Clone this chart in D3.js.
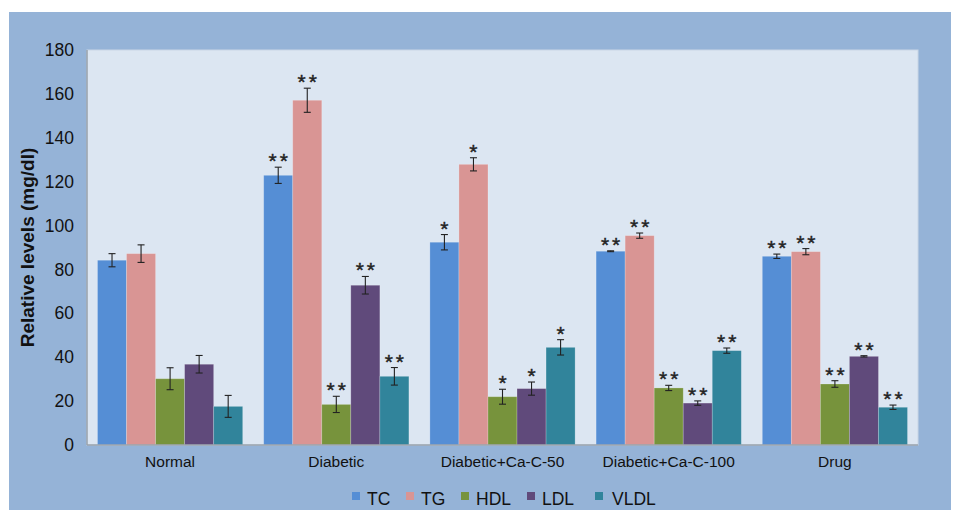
<!DOCTYPE html>
<html>
<head>
<meta charset="utf-8">
<script src="https://cdn.jsdelivr.net/npm/d3@7"></script>
<style>
  body { margin: 0; background: #fff; }
  svg text { font-family: "Liberation Sans", Arial, Helvetica, sans-serif; }
</style>
</head>
<body>
<div id="chart"></div>
<script>
const groups = ["Normal", "Diabetic", "Diabetic+Ca-C-50", "Diabetic+Ca-C-100", "Drug"];
const seriesNames = ["TC", "TG", "HDL", "LDL", "VLDL"];
const colors = ["#558ed5", "#d99594", "#77933c", "#604a7b", "#31849b"];

// values per series, one entry per group
const TC   = [84.2, 122.9, 92.4, 88.3, 86.0];
const TG   = [87.2, 157.1, 127.9, 95.4, 88.1];
const HDL  = [30.2, 18.5, 22.0, 26.0, 27.8];
const LDL  = [36.8, 72.8, 25.7, 19.1, 40.4];
const VLDL = [17.6, 31.3, 44.5, 43.0, 17.2];

// error (+/-)
const errTC   = [3.0, 3.7, 3.5, 0.2, 1.0];
const errTG   = [4.0, 5.5, 3.0, 1.2, 1.4];
const errHDL  = [5.0, 3.7, 3.4, 1.2, 1.5];
const errLDL  = [4.0, 4.0, 3.0, 1.0, 0.3];
const errVLDL = [5.0, 4.0, 3.5, 1.2, 1.0];

// significance marks per group
const marks = ["", "**", "*", "**", "**"];

const yTicks = [0, 20, 40, 60, 80, 100, 120, 140, 160, 180];

const values = [TC, TG, HDL, LDL, VLDL];
const errors = [errTC, errTG, errHDL, errLDL, errVLDL];

const width = 956, height = 516;
const margin = { top: 50, right: 38, bottom: 71, left: 87 };

const svg = d3.select("#chart").append("svg")
    .attr("width", width)
    .attr("height", height);

// outer panel
svg.append("rect")
    .attr("x", 9).attr("y", 12)
    .attr("width", 942).attr("height", 498)
    .attr("fill", "#95b3d7");

// plot area
svg.append("rect")
    .attr("x", margin.left).attr("y", margin.top)
    .attr("width", width - margin.left - margin.right)
    .attr("height", height - margin.top - margin.bottom)
    .attr("fill", "#dce6f2")
    .attr("stroke", "#c9d6e6")
    .attr("stroke-width", 1);

const x0 = d3.scaleBand()
    .domain(groups)
    .range([margin.left, width - margin.right])
    .padding(0);

const x1 = d3.scaleBand()
    .domain(seriesNames)
    .range([10.5, x0.bandwidth() - 10.5])
    .padding(0);

const y = d3.scaleLinear()
    .domain([0, 180])
    .range([height - margin.bottom, margin.top]);

const data = [];
groups.forEach((g, gi) => {
    seriesNames.forEach((s, si) => {
        data.push({ group: g, series: s, si: si, value: values[si][gi], err: errors[si][gi], mark: marks[gi] });
    });
});

// bars
svg.append("g")
    .selectAll("rect")
    .data(data)
    .join("rect")
    .attr("x", d => x0(d.group) + x1(d.series))
    .attr("y", d => y(d.value))
    .attr("width", x1.bandwidth())
    .attr("height", d => y(0) - y(d.value))
    .attr("fill", d => colors[d.si])
    .attr("stroke", "rgba(255,255,255,0.25)")
    .attr("stroke-width", 0.8);

// error bars
const eb = svg.append("g")
    .attr("stroke", "#222")
    .attr("stroke-width", 1.1)
    .selectAll("g")
    .data(data)
    .join("g")
    .attr("transform", d => `translate(${x0(d.group) + x1(d.series) + x1.bandwidth() / 2},0)`);

eb.append("line")
    .attr("y1", d => y(d.value + d.err))
    .attr("y2", d => y(d.value - d.err));
eb.append("line")
    .attr("x1", -3.5).attr("x2", 3.5)
    .attr("y1", d => y(d.value + d.err))
    .attr("y2", d => y(d.value + d.err));
eb.append("line")
    .attr("x1", -3.5).attr("x2", 3.5)
    .attr("y1", d => y(d.value - d.err))
    .attr("y2", d => y(d.value - d.err));

// significance asterisks
svg.append("g")
    .selectAll("text")
    .data(data.filter(d => d.mark))
    .join("text")
    .attr("x", d => x0(d.group) + x1(d.series) + x1.bandwidth() / 2 + 1.5)
    .attr("y", d => y(d.value + d.err) + 1)
    .attr("text-anchor", "middle")
    .attr("font-size", "21px")
    .attr("letter-spacing", "3px")
    .attr("stroke", "#222")
    .attr("stroke-width", 0.4)
    .attr("fill", "#222")
    .text(d => d.mark);

// axes lines
svg.append("line")
    .attr("x1", margin.left).attr("x2", margin.left)
    .attr("y1", margin.top).attr("y2", y(0))
    .attr("stroke", "#9aa3ad").attr("stroke-width", 1.5);
svg.append("line")
    .attr("x1", margin.left).attr("x2", width - margin.right)
    .attr("y1", y(0)).attr("y2", y(0))
    .attr("stroke", "#9aa3ad").attr("stroke-width", 1.5);

// y tick labels
svg.append("g")
    .selectAll("text")
    .data(yTicks)
    .join("text")
    .attr("x", 74)
    .attr("y", d => y(d))
    .attr("dy", "0.35em")
    .attr("text-anchor", "end")
    .attr("font-size", "17.5px")
    .attr("fill", "#111")
    .text(d => d);

// category labels
svg.append("g")
    .selectAll("text")
    .data(groups)
    .join("text")
    .attr("x", d => x0(d) + x0.bandwidth() / 2)
    .attr("y", 467)
    .attr("text-anchor", "middle")
    .attr("font-size", "15.5px")
    .attr("fill", "#111")
    .text(d => d);

// y axis title
svg.append("text")
    .attr("transform", `translate(34,${(margin.top + y(0)) / 2}) rotate(-90)`)
    .attr("text-anchor", "middle")
    .attr("font-size", "19px")
    .attr("font-weight", "bold")
    .attr("fill", "#111")
    .text("Relative levels (mg/dl)");

// legend
const legendX = [352, 406, 461, 527, 595];
const legend = svg.append("g")
    .selectAll("g")
    .data(seriesNames)
    .join("g")
    .attr("transform", (d, i) => `translate(${legendX[i]},0)`);
legend.append("rect")
    .attr("x", 0).attr("y", 492)
    .attr("width", 8).attr("height", 8)
    .attr("fill", (d, i) => colors[i]);
legend.append("text")
    .attr("x", (d, i) => i === 4 ? 17 : 15)
    .attr("y", 505)
    .attr("font-size", "17.5px")
    .attr("fill", "#111")
    .text(d => d);
</script>
</body>
</html>
